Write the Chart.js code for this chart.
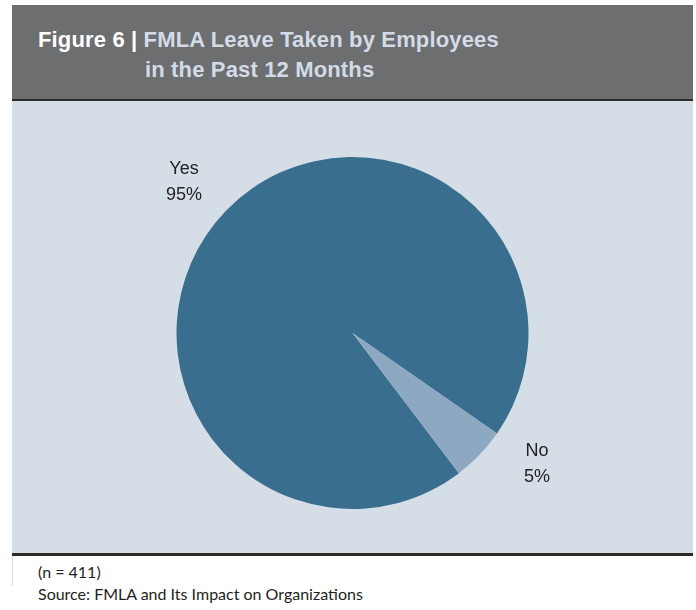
<!DOCTYPE html>
<html>
<head>
<meta charset="utf-8">
<script src="https://cdn.jsdelivr.net/npm/chart.js@4"></script>
<style>
    body {
        margin: 0;
        width: 696px;
        height: 610px;
        background: #ffffff;
        position: relative;
        overflow: hidden;
    }
    .header {
        position: absolute;
        left: 12px;
        top: 5px;
        width: 681px;
        height: 94px;
        background: #6d6e70;
        border-bottom: 2px solid #2b2b2b;
    }
    .title {
        position: absolute;
        font-family: 'Liberation Sans', Arial, sans-serif;
        font-weight: bold;
        font-size: 22px;
        line-height: 30px;
        color: #d3dbe6;
        white-space: nowrap;
        letter-spacing: 0.15px;
    }
    .title .fig {
        color: #ffffff;
    }
    .panel {
        position: absolute;
        left: 12px;
        top: 101px;
        width: 681px;
        height: 452px;
        background: #d5dde7;
        border-bottom: 3px solid #2b2b2b;
    }
    .edge {
        position: absolute;
        left: 12px;
        top: 556px;
        width: 1px;
        height: 30px;
        background: #d5dde7;
    }
    .footer {
        position: absolute;
        left: 38px;
        font-family: 'Lato', sans-serif;
        font-size: 16px;
        color: #231f20;
        white-space: nowrap;
    }
</style>
</head>
<body>
<div class="header">
    <div class="title" style="left: 26px; top: 20px;"><span class="fig">Figure 6 | </span>FMLA Leave Taken by Employees</div>
    <div class="title" style="left: 133px; top: 50px;">in the Past 12 Months</div>
</div>
<div class="panel">
    <canvas id="leaveChart" width="681" height="452"></canvas>
</div>
<div class="edge"></div>
<div class="footer" style="top: 562px;">(n = 411)</div>
<div class="footer" style="top: 584px;">Source: FMLA and Its Impact on Organizations</div>

<script>
const answers = ['Yes', 'No'];
const shares = [95, 5];
const sliceColors = ['#3a6e8e', '#8da9c2'];

// labels sit outside the pie, two lines: answer then percent
const outsideLabels = {
    id: 'outsideLabels',
    afterDatasetsDraw(chart, args, opts) {
        const ctx = chart.ctx;
        const meta = chart.getDatasetMeta(0);
        ctx.save();
        ctx.font = '18px "Liberation Sans", Arial, sans-serif';
        ctx.fillStyle = '#231f20';
        ctx.textAlign = 'center';
        ctx.textBaseline = 'middle';
        meta.data.forEach((arc, i) => {
            const props = arc.getProps(['x', 'y', 'startAngle', 'endAngle', 'outerRadius']);
            const mid = (props.startAngle + props.endAngle) / 2 + (opts.angleShift[i] || 0) * Math.PI / 180;
            const dist = props.outerRadius + opts.gap;
            const lx = props.x + Math.cos(mid) * dist;
            const ly = props.y + Math.sin(mid) * dist;
            ctx.fillText(chart.data.labels[i], lx, ly - 13);
            ctx.fillText(shares[i] + '%', lx, ly + 13);
        });
        ctx.restore();
    }
};

const ctx = document.getElementById('leaveChart').getContext('2d');
const leaveChart = new Chart(ctx, {
    type: 'pie',
    data: {
        labels: answers,
        datasets: [{
            data: shares,
            backgroundColor: sliceColors,
            borderWidth: 0
        }]
    },
    options: {
        responsive: false,
        animation: false,
        rotation: 142.8,
        layout: {
            padding: { top: 56, bottom: 44 }
        },
        plugins: {
            legend: { display: false },
            tooltip: { enabled: false },
            outsideLabels: {
                gap: 50,
                angleShift: [-2, -8.5]
            }
        }
    },
    plugins: [outsideLabels]
});
</script>
</body>
</html>
